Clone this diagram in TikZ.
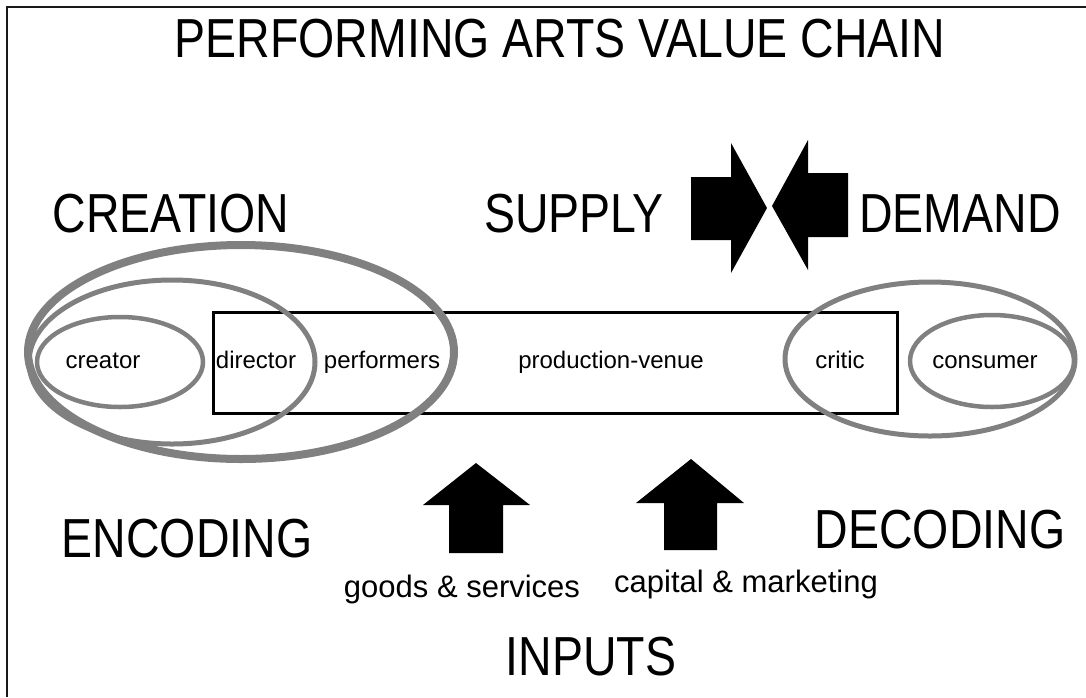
\documentclass[tikz,border=0pt]{standalone}
\usepackage{fontspec}
\setmainfont{Liberation Sans}
\newfontfamily\headfont[FakeStretch=0.845]{Liberation Sans}
\definecolor{ringgray}{gray}{0.5}

\tikzset{
    heading/.style={font=\headfont\fontsize{55}{60}\selectfont, anchor=base, inner sep=0},
    rolename/.style={font=\fontsize{24}{28}\selectfont, anchor=base, inner sep=0},
    inputname/.style={font=\fontsize{31}{36}\selectfont, anchor=base, inner sep=0},
    ring/.style={draw=ringgray, line width=5},
    block/.style={fill=black}
}

\begin{document}
\begin{tikzpicture}[x=1pt, y=-1pt]
    \fill[white] (0,0) rectangle (1086,697);
    \useasboundingbox (0,0) rectangle (1086,697);

    % Frame (open at right and bottom)
    \draw[line width=2, gray!20!black] (7,697) -- (7,7) -- (1086,7);

    % Title
    \node[heading] (title) at (560,57) {PERFORMING ARTS VALUE CHAIN};

    % Upper headings
    \node[heading] (creation) at (171,232) {CREATION};
    \node[heading] (supply) at (574,232) {SUPPLY};
    \node[heading] (demand) at (960,232) {DEMAND};

    % Supply and demand arrows
    \fill[block] (691,177) -- (731,177) -- (731,143) -- (767,208) -- (731,273) -- (731,240) -- (691,240) -- cycle;
    \fill[block] (848,173) -- (808,173) -- (808,140) -- (772,206) -- (808,270) -- (808,237) -- (848,237) -- cycle;

    % Production-venue box
    \draw[line width=3] (213,312) rectangle (897,413);

    % Creation side (left)
    \draw[ring, line width=8] (241,352) ellipse [x radius=213, y radius=107];
    \draw[ring] (172,362) ellipse [x radius=143, y radius=82];
    \draw[ring, line width=4.5] (120,362) ellipse [x radius=83, y radius=45];

    % Consumption side (right)
    \draw[ring] (930,359) ellipse [x radius=145, y radius=77];
    \draw[ring, line width=4.5] (992,361) ellipse [x radius=82, y radius=46];

    % Roles
    \node[rolename] (creator) at (103,368) {creator};
    \node[rolename] (director) at (256,368) {director};
    \node[rolename] (performers) at (382,368) {performers};
    \node[rolename] (venue) at (611,368) {production-venue};
    \node[rolename] (critic) at (840,368) {critic};
    \node[rolename] (consumer) at (985,368) {consumer};

    % Lower headings
    \node[heading] (encoding) at (187,557) {ENCODING};
    \node[heading] (decoding) at (940,548) {DECODING};

    % Input arrows
    \fill[block] (449,553) -- (449,505) -- (423,505) -- (476,463) -- (530,505) -- (503,505) -- (503,553) -- cycle;
    \fill[block] (664,550) -- (664,503) -- (636,503) -- (691,459) -- (744,503) -- (717,503) -- (717,550) -- cycle;

    \node[inputname] (goods) at (462,597) {goods \& services};
    \node[inputname] (capital) at (746,592) {capital \& marketing};
    \node[heading] (inputs) at (591,675) {INPUTS};
\end{tikzpicture}
\end{document}
